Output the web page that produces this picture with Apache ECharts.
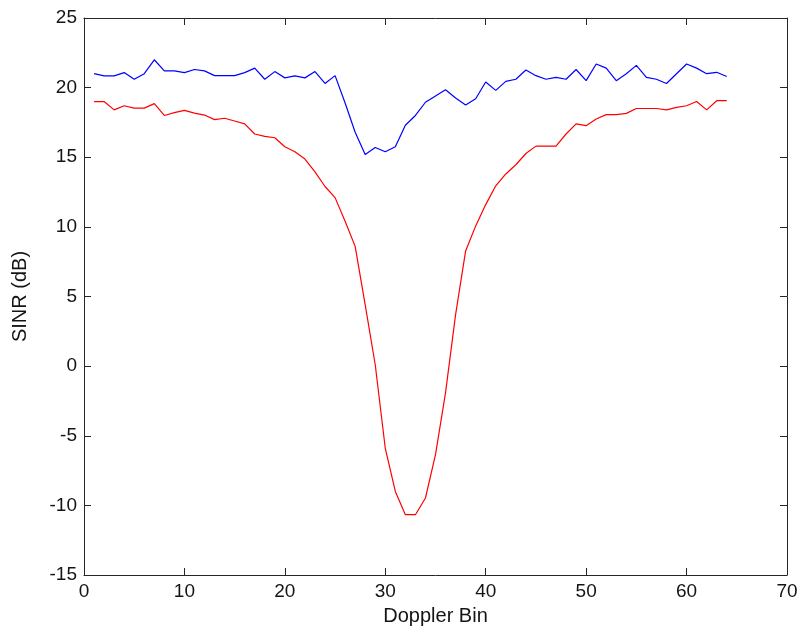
<!DOCTYPE html>
<html>
<head>
<meta charset="utf-8">
<script src="https://cdn.jsdelivr.net/npm/echarts@6/dist/echarts.min.js"></script>
<style>
  html, body { margin: 0; padding: 0; background: #fff; }
  #chart { width: 801px; height: 637px; }
</style>
</head>
<body>
<div id="chart"></div>
<script>
// Doppler bins 1..64
const bins = Array.from({ length: 64 }, (_, i) => i + 1);

// SINR (dB) per Doppler bin, upper (blue) curve
const sinrBlue = [
  21.0, 20.84, 20.84, 21.08, 20.6, 21.0, 22.0, 21.2, 21.2, 21.08,
  21.3, 21.2, 20.86, 20.86, 20.86, 21.08, 21.4, 20.6, 21.15, 20.7,
  20.84, 20.7, 21.15, 20.3, 20.86, 18.9, 16.8, 15.2, 15.7, 15.4,
  15.75, 17.3, 18.0, 18.95, 19.4, 19.85, 19.25, 18.75, 19.2, 20.4,
  19.8, 20.45, 20.6, 21.27, 20.86, 20.6, 20.74, 20.6, 21.3, 20.5,
  21.7, 21.4, 20.5, 21.0, 21.6, 20.74, 20.6, 20.3, 21.0, 21.7,
  21.4, 21.0, 21.1, 20.8
];

// SINR (dB) per Doppler bin, lower (red) curve
const sinrRed = [
  19.0, 19.0, 18.4, 18.7, 18.53, 18.53, 18.85, 18.0, 18.2, 18.37,
  18.17, 18.03, 17.7, 17.8, 17.6, 17.4, 16.67, 16.5, 16.4, 15.75,
  15.4, 14.87, 13.95, 12.9, 12.1, 10.4, 8.6, 4.4, 0.1, -5.9,
  -9.0, -10.67, -10.67, -9.47, -6.35, -1.9, 3.7, 8.27, 10.07, 11.6,
  12.95, 13.8, 14.46, 15.27, 15.8, 15.8, 15.8, 16.67, 17.4, 17.27,
  17.75, 18.06, 18.06, 18.15, 18.5, 18.5, 18.5, 18.4, 18.58, 18.7,
  19.0, 18.4, 19.06, 19.06
];

// Axis ranges and ticks
const xTicks = [0, 10, 20, 30, 40, 50, 60, 70];
const yTicks = [-15, -10, -5, 0, 5, 10, 15, 20, 25];

const axisFont = { fontFamily: 'Liberation Sans, Arial, sans-serif', fontSize: 19, color: '#141414' };
const lineStyle = { color: '#262626', width: 1 };

const chart = echarts.init(document.getElementById('chart'), null, { renderer: 'canvas' });

const makeX = (pos, showLabels) => ({
  type: 'value',
  position: pos,
  min: xTicks[0],
  max: xTicks[xTicks.length - 1],
  interval: 10,
  name: showLabels ? 'Doppler Bin' : '',
  nameLocation: 'middle',
  nameGap: 31,
  nameTextStyle: { ...axisFont, fontSize: 20 },
  axisLine: { show: true, onZero: false, lineStyle },
  axisTick: { show: true, inside: true, length: 7, lineStyle },
  axisLabel: { show: showLabels, margin: 7, ...axisFont },
  splitLine: { show: false }
});

const makeY = (pos, showLabels) => ({
  type: 'value',
  position: pos,
  min: yTicks[0],
  max: yTicks[yTicks.length - 1],
  interval: 5,
  name: showLabels ? 'SINR (dB)' : '',
  nameLocation: 'middle',
  nameGap: 54,
  nameTextStyle: { ...axisFont, fontSize: 20 },
  axisLine: { show: true, onZero: false, lineStyle },
  axisTick: { show: true, inside: true, length: 7, lineStyle },
  axisLabel: { show: showLabels, margin: 7, ...axisFont },
  splitLine: { show: false }
});

chart.setOption({
  backgroundColor: '#ffffff',
  animation: false,
  grid: { left: 84, right: 14, top: 18, bottom: 62, containLabel: false },
  xAxis: [makeX('bottom', true), makeX('top', false)],
  yAxis: [makeY('left', true), makeY('right', false)],
  series: [
    {
      type: 'line',
      xAxisIndex: 0,
      yAxisIndex: 0,
      data: bins.map((b, i) => [b, sinrBlue[i]]),
      showSymbol: false,
      lineStyle: { color: '#0000ff', width: 1.2 },
      itemStyle: { color: '#0000ff' }
    },
    {
      type: 'line',
      xAxisIndex: 0,
      yAxisIndex: 0,
      data: bins.map((b, i) => [b, sinrRed[i]]),
      showSymbol: false,
      lineStyle: { color: '#ff0000', width: 1.2 },
      itemStyle: { color: '#ff0000' }
    }
  ]
});
</script>
</body>
</html>
